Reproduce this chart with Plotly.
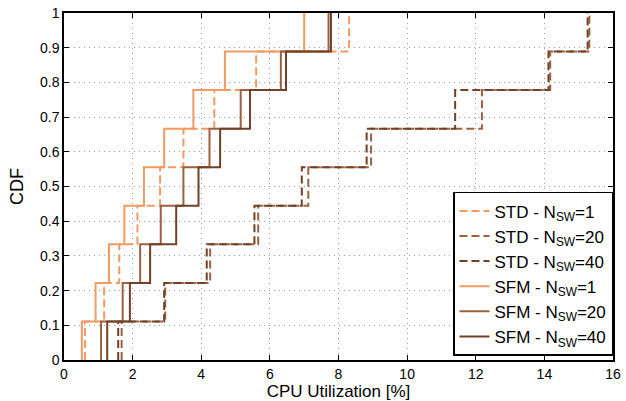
import plotly.graph_objects as go

levels = [i / 9 for i in range(10)]

std_n1 = [0.61, 1.17, 1.61, 2.14, 2.80, 3.48, 4.38, 5.60, 8.31]
std_n20 = [1.68, 2.95, 4.26, 5.66, 7.12, 8.95, 12.18, 14.17, 15.31]
std_n40 = [1.58, 2.92, 4.16, 5.55, 6.93, 8.82, 11.40, 14.12, 15.26]
sfm_n1 = [0.52, 0.92, 1.31, 1.76, 2.33, 2.92, 3.77, 4.69, 7.00]
sfm_n20 = [1.08, 1.71, 2.22, 2.82, 3.48, 4.24, 5.15, 6.32, 7.71]
sfm_n40 = [1.26, 1.92, 2.51, 3.27, 3.92, 4.55, 5.42, 6.47, 7.78]

names = ["STD - N<sub>SW</sub>=1", "STD - N<sub>SW</sub>=20", "STD - N<sub>SW</sub>=40",
         "SFM - N<sub>SW</sub>=1", "SFM - N<sub>SW</sub>=20", "SFM - N<sub>SW</sub>=40"]
series = [std_n1, std_n20, std_n40, sfm_n1, sfm_n20, sfm_n40]
colors = ["#F29A62", "#9E6040", "#6E4128", "#F29A62", "#9E6040", "#6E4128"]
dashes = ["8px,4px", "8px,4px", "8px,4px", "solid", "solid", "solid"]

fig = go.Figure()
for name, vals, col, d in zip(names, series, colors, dashes):
    xs = [vals[0]] + list(vals)
    fig.add_trace(go.Scatter(
        x=xs, y=levels, mode="lines", name=name,
        line=dict(color=col, width=2, dash=d, shape="hv"),
    ))

font = "Liberation Sans, Arial, sans-serif"
axis_common = dict(
    showline=True, linecolor="black", linewidth=1.5, mirror="ticks",
    ticks="inside", ticklen=5, tickcolor="black", tickwidth=1.2,
    showgrid=True, gridcolor="#a0a0a0", griddash="1px,4px", gridwidth=1,
    zeroline=False, automargin=False, ticklabeloverflow="allow",
    tickfont=dict(family=font, size=14, color="black"),
)

fig.update_layout(
    width=626, height=401,
    margin=dict(l=64, r=13, t=13, b=41),
    paper_bgcolor="white", plot_bgcolor="white",
    font=dict(family=font, color="black"),
    xaxis=dict(range=[0, 16], tickvals=list(range(0, 17, 2)),
               title=dict(text="CPU Utilization [%]", font=dict(family=font, size=17), standoff=4),
               **axis_common),
    yaxis=dict(range=[0, 1], tickvals=[i / 10 for i in range(11)],
               ticktext=["0", "0.1", "0.2", "0.3", "0.4", "0.5", "0.6", "0.7", "0.8", "0.9", "1"],
               title=dict(text="CDF", font=dict(family=font, size=18), standoff=12),
               **axis_common),
    legend=dict(x=1, y=0.012, xanchor="right", yanchor="bottom",
                bgcolor="white", bordercolor="black", borderwidth=1.5,
                font=dict(family=font, size=17), tracegroupgap=0, itemwidth=30),
)

# remove the default 8px page margin so the figure sits at the window's top-left corner
fig.write_html("out.html", config={"displayModeBar": False},
               post_script="document.body.style.margin='0';")
